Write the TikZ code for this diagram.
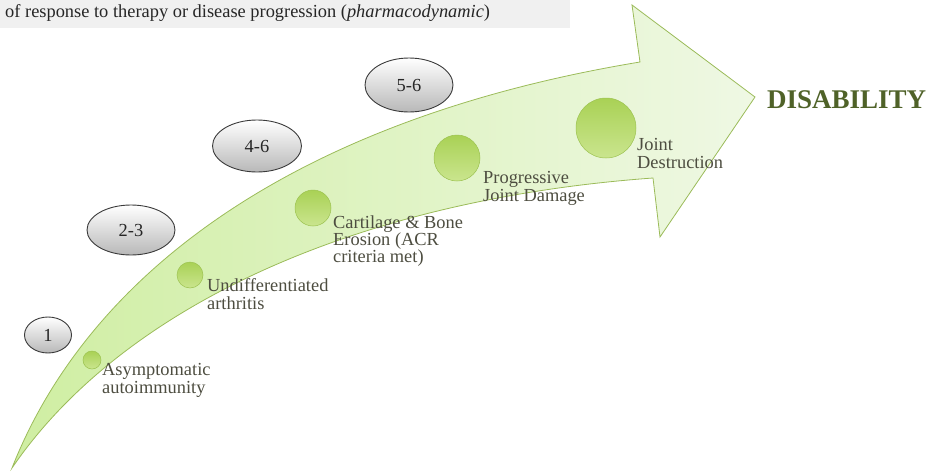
\documentclass[tikz,border=0pt]{standalone}
\usepackage{fontspec}
\setmainfont{Liberation Serif}
\usetikzlibrary{shapes.geometric}
\definecolor{bannerbg}{HTML}{F0F0F0}
\definecolor{arrowleft}{HTML}{CFEEA2}
\definecolor{arrowright}{HTML}{EFF8E4}
\definecolor{arrowline}{HTML}{9BBB59}
\definecolor{balltop}{HTML}{A9D155}
\definecolor{ballbot}{HTML}{CAE58E}
\definecolor{ballline}{HTML}{9CC250}
\definecolor{labelc}{HTML}{4D4D40}
\definecolor{disc}{HTML}{4F6228}
\definecolor{ellbot}{HTML}{B8B8B8}
\definecolor{ellline}{HTML}{3A3A3A}
\newcommand{\lblfont}{\rmfamily\fontsize{18.4}{18.5}\selectfont}
\begin{document}
\begin{tikzpicture}[x=1pt,y=-1pt,
  lbl/.style={anchor=north west, inner sep=0pt, align=left, text=labelc, font=\lblfont},
  stage/.style={ellipse, draw=ellline, line width=0.9pt, top color=white, bottom color=ellbot, text=black!85, font=\lblfont, inner sep=0pt},
  ballnode/.style={circle, draw=ballline, line width=0.5pt, top color=balltop, bottom color=ballbot, inner sep=0pt}
]
\useasboundingbox (0,0) rectangle (938,472);
% banner
\node[fill=bannerbg, anchor=north west, minimum width=570pt, minimum height=28pt, inner sep=0pt] (banner) at (0,0) {};
\node[anchor=base west, inner sep=0pt, text=black!85, font=\lblfont] (bantext) at (5,17) {of response to therapy or disease progression (\textit{pharmacodynamic})};
% arrow
\path[draw=arrowline, line width=0.8pt, left color=arrowleft, right color=arrowright]
  (12,468) .. controls (90,270) and (300,118) .. (640,62) -- (632,5) -- (755,97) -- (660,237) -- (653,178)
  .. controls (350,200) and (120,310) .. (12,468) -- cycle;
% stage ellipses
\node[stage, minimum width=47pt, minimum height=36pt] (e1) at (48,335) {1};
\node[stage, minimum width=88pt, minimum height=50pt] (e2) at (131,230) {2-3};
\node[stage, minimum width=89pt, minimum height=52pt] (e3) at (257,146) {4-6};
\node[stage, minimum width=88pt, minimum height=54pt] (e4) at (409,85) {5-6};
% balls
\node[ballnode, minimum size=18pt] (b1) at (92,360) {};
\node[ballnode, minimum size=26pt] (b2) at (190,275) {};
\node[ballnode, minimum size=36pt] (b3) at (313,208) {};
\node[ballnode, minimum size=46pt] (b4) at (457,158) {};
\node[ballnode, minimum size=60pt] (b5) at (606,128) {};
% labels
\node[lbl] (l1) at (102,363) {Asymptomatic\\autoimmunity};
\node[lbl] (l2) at (207,278) {Undifferentiated\\arthritis};
\node[lbl, font=\rmfamily\fontsize{18.4}{17}\selectfont] (l3) at (333,216) {Cartilage \& Bone\\Erosion (ACR\\criteria met)};
\node[lbl] (l4) at (483,171) {Progressive\\Joint Damage};
\node[lbl] (l5) at (637,138) {Joint\\Destruction};
\node[anchor=base west, inner sep=0pt, text=disc, font=\rmfamily\fontsize{27}{30}\selectfont\bfseries] (dis) at (767,108) {DISABILITY};
\end{tikzpicture}
\end{document}
